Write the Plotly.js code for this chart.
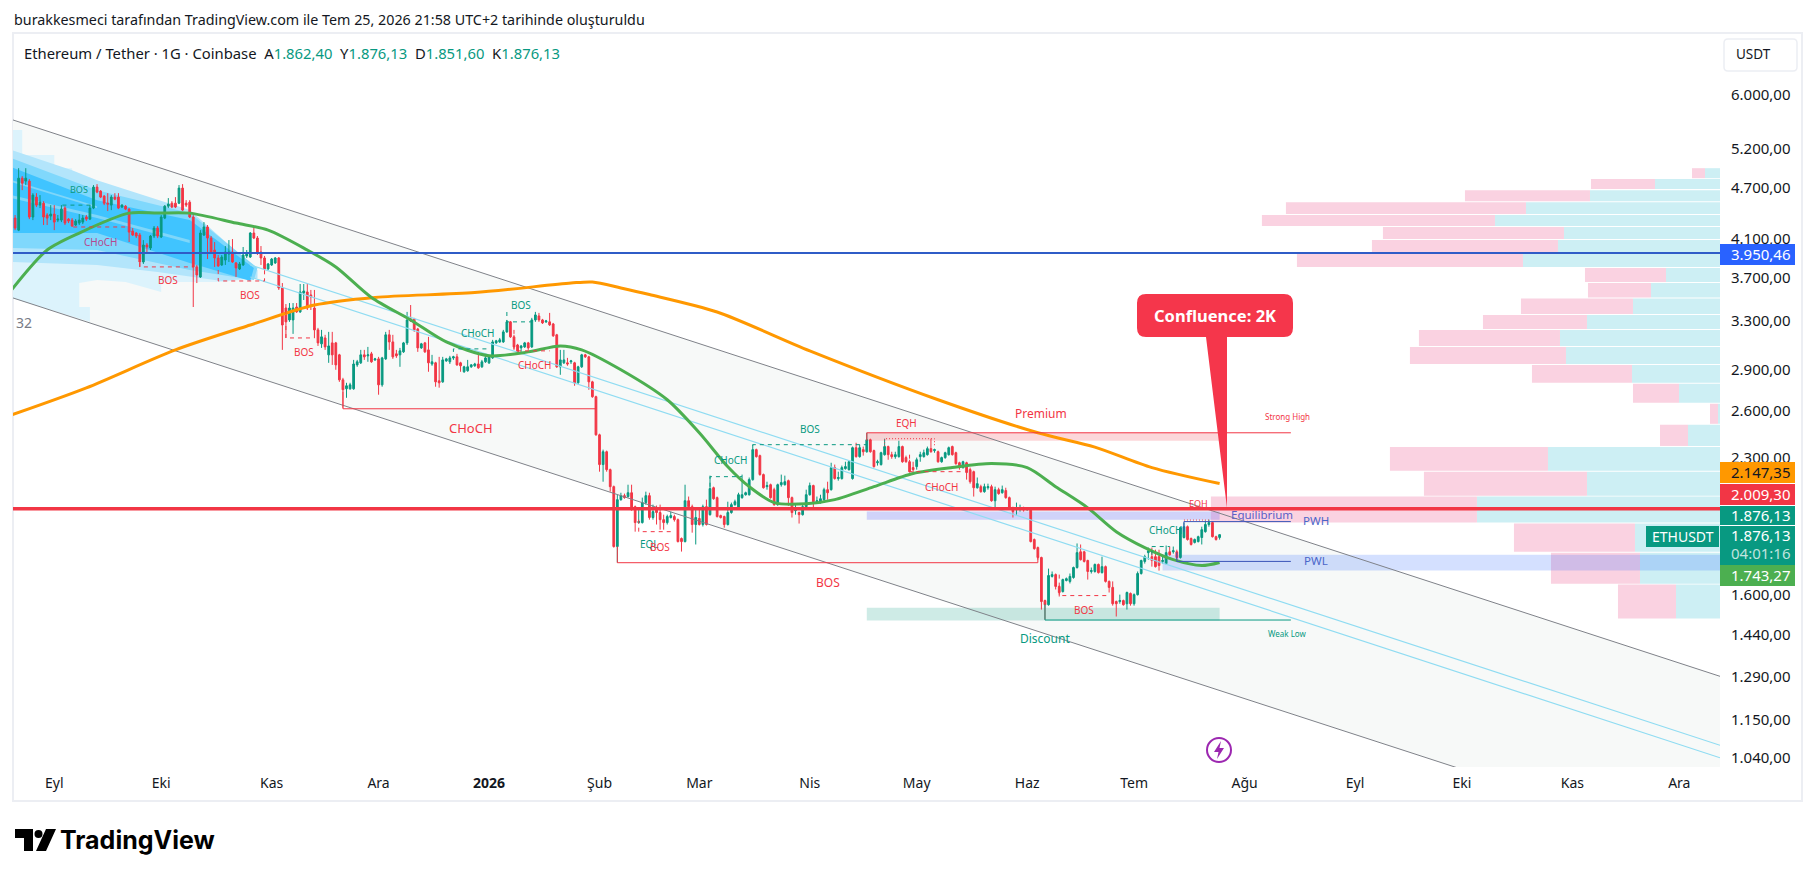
<!DOCTYPE html>
<html><head><meta charset="utf-8">
<script src="https://cdn.plot.ly/plotly-3.0.1.min.js"></script>
<style>html,body{margin:0;padding:0;background:#fff}#c{width:1814px;height:877px}</style></head>
<body><div id="c"></div>
<script>
// ---------- candles (daily, first candle 2025-08-20, last 2026-07-25) ----------
const firstDay = '2025-08-20';
const opens = [4056,4333,4197,4815,4778,4778,4345,4580,4484,4507,4368,4356,4379,4310,4310,4449,4321,4310,4254,4276,4287,4345,4321,4449,4703,4653,4592,4507,4484,4580,4580,4461,4472,4437,4186,4165,4143,3858,4035,4003,4132,4220,4121,4333,4472,4507,4507,4507,4690,4507,4519,4345,3808,3708,4143,4232,4110,3982,3899,3828,3878,3940,3961,3848,3788,3828,3920,3909,4165,4110,3961,3899,3788,3828,3848,3899,3602,3416,3310,3310,3425,3381,3555,3564,3536,3416,3224,3107,3156,3018,3115,3115,3018,2825,2759,2759,2759,2939,2955,3018,3010,3026,2978,2986,2788,2986,3182,3123,3026,3018,3042,3115,3319,3319,3232,3074,3115,3058,2946,2955,2818,2810,2970,2963,2994,3002,2955,2886,2894,2924,2932,2946,2924,2963,2955,2994,3115,3123,3123,3207,3293,3165,3098,3074,3082,3115,3082,3310,3345,3310,3293,3293,3275,3182,2924,2955,2955,2963,2955,2803,2924,3018,3002,2810,2702,2443,2258,2336,2228,2130,1818,2058,2080,2075,2096,2020,1937,1937,2042,2080,1963,2014,1989,1952,1937,1963,1968,1952,1857,1842,2052,2020,1927,1958,1927,2020,1978,2124,2069,1973,1968,1927,1989,2031,2014,2069,2085,2085,2170,2349,2312,2199,2130,2141,2113,2031,2141,2141,2164,2069,1999,1989,1978,2020,2085,2136,2047,2042,2058,2113,2113,2240,2176,2176,2234,2228,2176,2361,2306,2349,2336,2411,2343,2269,2258,2318,2368,2318,2306,2306,2368,2300,2275,2240,2246,2306,2306,2318,2355,2343,2336,2275,2300,2318,2368,2330,2269,2240,2269,2228,2216,2124,2130,2102,2124,2130,2052,2113,2096,2108,2069,2014,2004,2009,2009,2004,2004,1852,1813,1766,1576,1559,1680,1688,1636,1614,1662,1658,1675,1720,1793,1793,1752,1702,1702,1734,1697,1724,1658,1632,1572,1572,1576,1563,1606,1563,1601,1693,1748,1789,1770,1770,1770,1748,1738,1793,1793,1793,1766,1862,1916,1857,1838,1842,1862,1891,1927,1937,1866,1862.40];
const highs = [4368,4368,4944,4841,4944,4803,4628,4628,4604,4531,4390,4484,4484,4368,4484,4472,4333,4333,4321,4379,4368,4368,4484,4728,4740,4665,4604,4628,4604,4628,4628,4496,4484,4449,4220,4175,4165,4088,4056,4143,4243,4243,4368,4484,4568,4531,4580,4728,4740,4543,4543,4368,3828,4197,4287,4254,4132,4067,3930,3930,4024,4088,4099,3858,3858,4014,3982,4175,4232,4132,4024,3920,3848,3899,3909,3909,3649,3452,3461,3461,3461,3640,3640,3649,3583,3583,3241,3224,3182,3207,3207,3123,3026,2840,2803,2803,2978,2978,3058,3058,3082,3042,2994,3002,3002,3207,3224,3182,3058,3074,3123,3381,3443,3328,3241,3115,3123,3165,3018,2963,3002,3002,2994,3010,3010,3026,2963,2932,2978,2946,2955,3042,2978,3018,3010,3140,3140,3156,3224,3310,3301,3182,3107,3098,3123,3123,3328,3381,3372,3319,3310,3372,3284,3190,3058,3058,2994,2978,2963,2932,3026,3026,3010,2818,2709,2450,2349,2343,2234,2136,2085,2096,2091,2141,2141,2026,2014,2069,2102,2096,2031,2026,2031,1978,1978,1994,1978,1958,1862,2141,2075,2031,2004,2004,2031,2058,2193,2130,2075,1978,1973,2047,2042,2058,2096,2199,2102,2182,2380,2355,2318,2205,2158,2147,2124,2147,2199,2193,2170,2075,2031,1994,2031,2113,2153,2141,2075,2085,2124,2158,2269,2258,2216,2252,2275,2281,2368,2392,2380,2368,2456,2418,2349,2287,2336,2418,2374,2336,2336,2405,2374,2312,2287,2275,2300,2336,2349,2368,2418,2355,2343,2306,2336,2368,2374,2336,2275,2281,2275,2240,2222,2182,2141,2147,2147,2141,2130,2124,2136,2124,2075,2020,2042,2031,2020,2014,2009,1857,1818,1770,1580,1715,1702,1693,1640,1670,1675,1693,1724,1833,1828,1798,1756,1720,1738,1738,1770,1729,1662,1658,1576,1601,1580,1614,1610,1606,1702,1756,1779,1813,1813,1803,1803,1779,1823,1818,1818,1803,1916,1937,1922,1862,1857,1871,1916,1947,1952,1942,1871,1876.13];
const lows = [4035,4197,4186,4665,4728,4321,4310,4461,4449,4254,4254,4310,4197,4287,4287,4254,4276,4232,4243,4254,4265,4299,4310,4437,4628,4568,4484,4414,4425,4543,4437,4449,4425,4067,4132,4110,3808,3838,3961,3982,4110,4110,4110,4321,4449,4449,4449,4496,4414,4461,4333,3425,3649,3698,4132,3888,3951,3808,3808,3818,3828,3858,3848,3708,3777,3818,3899,3899,4099,3930,3828,3777,3777,3818,3838,3583,3058,3156,3293,3190,3372,3372,3489,3398,3398,3156,3090,3074,3058,2955,2939,2901,2810,2624,2694,2752,2752,2924,2946,2978,2963,2955,2970,2716,2774,2978,3058,2986,2994,2924,3034,3098,3293,3207,3042,3066,3034,2886,2932,2774,2767,2803,2963,2946,2986,2932,2886,2878,2886,2916,2924,2909,2916,2955,2946,2986,3107,3115,3115,3199,3156,3066,3034,3042,3074,3058,3074,3293,3293,3275,3284,3258,3165,2916,2863,2946,2932,2946,2781,2796,2916,2994,2752,2694,2437,2216,2158,2216,2102,1813,1743,2052,2063,2069,1999,1891,1932,1932,2031,1952,1952,1927,1901,1901,1927,1958,1942,1838,1794,1838,2014,1886,1828,1922,1917,1922,1973,2058,1963,1958,1911,1922,1983,2025,2009,2063,2080,2080,2164,2300,2193,2119,2113,2063,2025,2025,2130,2136,2025,1963,1978,1932,1973,2014,2080,2004,2042,2036,2052,2058,2108,2170,2164,2170,2228,2222,2170,2300,2300,2312,2330,2330,2240,2252,2252,2312,2287,2293,2293,2300,2269,2269,2211,2211,2228,2275,2300,2312,2330,2330,2269,2269,2293,2312,2312,2258,2228,2234,2170,2147,2075,2119,2096,2096,2113,2047,2004,2085,2091,2063,2009,1963,1978,1994,1994,1999,1838,1803,1756,1539,1499,1555,1675,1623,1593,1610,1658,1649,1670,1715,1752,1743,1666,1693,1697,1693,1693,1653,1610,1555,1511,1563,1555,1539,1555,1555,1597,1688,1738,1756,1724,1720,1706,1738,1734,1775,1784,1748,1761,1857,1847,1823,1833,1838,1828,1886,1916,1862,1847,1851.60];
const closes = [4321,4220,4815,4752,4815,4345,4604,4484,4519,4345,4333,4379,4287,4321,4437,4276,4299,4243,4299,4310,4333,4321,4449,4703,4641,4580,4507,4496,4580,4555,4449,4484,4437,4175,4143,4132,3858,4035,4014,4132,4220,4132,4345,4472,4496,4461,4461,4690,4425,4484,4345,3808,3728,4165,4232,4110,3961,3899,3818,3909,3961,3961,3858,3798,3838,3930,3940,4165,4110,3951,3899,3788,3838,3888,3899,3602,3266,3293,3416,3416,3381,3564,3573,3416,3517,3224,3115,3165,3082,3090,3018,2939,2825,2752,2781,2788,2946,2963,3018,3002,3018,2963,2986,2788,2994,3182,3123,3002,3010,3050,3115,3310,3301,3224,3074,3107,3042,2955,2963,2810,2803,2978,2986,2994,3002,2939,2932,2924,2924,2939,2946,2916,2963,2994,3002,3123,3132,3140,3207,3293,3165,3082,3042,3090,3115,3074,3310,3354,3310,3284,3301,3267,3174,2924,2978,2978,2946,2970,2803,2924,3018,3002,2810,2702,2443,2258,2336,2228,2130,1818,2058,2080,2069,2096,2004,1937,1942,2042,2080,1963,1994,1989,1952,1937,1968,1973,1952,1842,1842,2052,2020,1927,1963,1927,2020,1927,2119,2063,1968,1963,1927,1989,2031,2047,2085,2085,2096,2170,2349,2306,2199,2124,2136,2069,2031,2141,2153,2158,2069,1989,2004,1978,2020,2085,2136,2047,2052,2063,2113,2096,2240,2176,2182,2240,2246,2275,2361,2306,2361,2336,2411,2336,2246,2275,2330,2368,2318,2306,2318,2368,2275,2275,2216,2228,2287,2318,2330,2355,2336,2349,2275,2300,2330,2361,2318,2263,2240,2275,2211,2158,2124,2147,2102,2130,2130,2052,2113,2091,2113,2069,2014,1994,2009,2014,2004,2009,1842,1808,1766,1572,1559,1684,1688,1636,1610,1666,1670,1680,1720,1789,1756,1748,1702,1706,1734,1697,1724,1658,1632,1563,1563,1576,1559,1610,1563,1601,1693,1752,1770,1798,1752,1724,1729,1752,1789,1779,1798,1766,1911,1916,1852,1828,1852,1866,1901,1927,1937,1866,1852,1876.13];

// ---------- moving averages ----------
const greenDates = ['2025-08-20','2025-08-30','2025-09-08','2025-09-22','2025-09-30','2025-10-09','2025-10-22','2025-10-31','2025-11-11','2025-11-19','2025-11-29','2025-12-10','2025-12-20','2026-01-01','2026-01-12','2026-01-21','2026-01-27','2026-02-07','2026-02-20','2026-03-01','2026-03-09','2026-03-15','2026-03-22','2026-03-31','2026-04-08','2026-04-19','2026-04-30','2026-05-11','2026-05-22','2026-06-01','2026-06-09','2026-06-18','2026-06-26','2026-07-04','2026-07-12','2026-07-20','2026-07-25'];
const greenValues = [3583,3982,4165,4390,4390,4390,4276,4197,3982,3808,3513,3310,3123,3010,3042,3090,3058,2901,2680,2456,2245,2130,2042,2036,2058,2130,2205,2240,2264,2240,2130,2014,1891,1813,1756,1729,1743.27];
const orangeDates = ['2025-08-20','2025-09-10','2025-10-05','2025-10-26','2025-11-13','2025-11-30','2025-12-28','2026-01-24','2026-01-30','2026-02-07','2026-02-15','2026-03-06','2026-04-01','2026-05-07','2026-06-04','2026-06-20','2026-07-06','2026-07-25'];
const orangeValues = [2575,2766,3058,3266,3443,3513,3558,3649,3659,3602,3540,3380,3050,2680,2456,2365,2240,2147.35];

// ---------- channel ----------
const axisStart = '2025-08-20 10:00', axisEnd = '2026-12-12 10:00';
const upperPrices = [5616,1290];
const lowerPrices = [3508,808];
const midDates = ['2025-10-26','2026-12-12 10:00'];
const midOnePrices = [3828,1075];
const midTwoPrices = [3708,1040];

// ---------- levels ----------
const blueLevel = 3950.46, redLevel = 2009.30;

// ---------- left volume wedge ----------
const wedgeColors = ['#dcf3fc','#b3e5fb','#80d8fc','#40c4ff','#7fd6f9','#7fd6f9'];
const wedgeDates = [
 ['2025-08-20','2025-08-23','2025-08-23','2025-09-01','2025-09-01','2025-09-06','2025-09-06','2025-10-28','2025-10-28','2025-10-18','2025-10-01','2025-10-01','2025-09-21','2025-09-13','2025-09-08','2025-09-08','2025-09-11','2025-09-11','2025-08-20'],
 ['2025-08-20','2025-09-06','2025-09-13','2025-10-09','2025-10-28','2025-10-28','2025-10-18','2025-09-30','2025-09-13','2025-08-20'],
 ['2025-08-20','2025-09-13','2025-10-09','2025-10-28','2025-10-27','2025-10-09','2025-09-13','2025-08-20'],
 ['2025-08-20','2025-09-13','2025-10-09','2025-10-27','2025-10-26','2025-10-13','2025-10-09','2025-09-13','2025-08-20'],
 ['2025-08-20','2025-09-13','2025-10-09','2025-10-09','2025-09-13','2025-08-20'],
 ['2025-08-20','2025-09-13','2025-09-13','2025-08-20']];
const wedgePrices = [
 [5470,5470,5120,5120,4944,4944,4854,3777,3698,3659,3659,3564,3659,3679,3649,3425,3425,3293,3508],
 [5186,4918,4790,4425,3777,3698,3669,3757,3828,3858],
 [5077,4665,4390,3798,3679,3777,3982,4003],
 [4957,4543,4310,3798,3669,3808,3848,4165,4165],
 [4604,4368,4088,4056,4333,4568],
 [4790,4472,4449,4765]];

// ---------- right volume profile ----------
const vpHigh = [4944,4803,4665,4519,4368,4232,4088,3940,3798,3649,3504,3354,3224,3082,2939,2796,2652,2509,2365,2216,2075,1932,1789,1644];
const vpLow  = [4815,4678,4531,4379,4243,4099,3951,3808,3659,3513,3362,3232,3090,2946,2803,2659,2515,2372,2222,2080,1937,1793,1648,1503];
const vpBuy  = [15,65,130,194,225,156,162,197,54,69,87,133,160,154,88,41,2,32,172,133,243,85,80,44];
const vpSell = [13,64,125,240,233,181,186,226,81,63,112,104,141,156,100,46,8,28,158,163,266,121,89,58];

// ---------- zones ----------
const zoneStart = '2026-04-17', zoneEnd = '2026-07-25';
const premiumPrices = [2456,2405], equilibriumPrices = [1994,1952], discountPrices = [1546,1495], pwlZonePrices = [1779,1706];
const pwlZoneStart = '2026-07-09';

// ---------- structure lines ----------
const tealDashDates = ['2025-09-03','2025-09-03','2025-09-12',null,'2025-12-22','2025-12-22','2026-01-01',null,'2026-01-06','2026-01-06','2026-01-13',null,'2026-03-16','2026-03-16','2026-04-17',null,'2026-03-04','2026-03-04','2026-03-13',null,'2026-07-06','2026-07-06','2026-07-11'];
const tealDashPrices = [4310,4484,4484,null,2978,3066,3066,null,3380,3293,3293,null,2228,2380,2380,null,2085,2187,2187,null,1779,1818,1818];
const redDashDates = ['2025-09-06','2025-09-06','2025-09-21',null,'2025-09-25','2025-09-25','2025-10-10',null,'2025-10-17','2025-10-17','2025-10-30','2025-10-30',null,'2025-11-05','2025-11-05','2025-11-13',null,'2026-01-08','2026-01-08','2026-01-18',null,'2026-04-29','2026-04-29','2026-05-14',null,'2026-02-12','2026-02-12','2026-02-22',null,'2026-06-10','2026-06-10','2026-06-24'];
const redDashPrices = [4310,4232,4232,null,3930,3808,3808,null,3858,3669,3669,3798,null,3398,3156,3156,null,3224,3050,3050,null,2318,2216,2216,null,1952,1891,1891,null,1688,1597,1597];
const redDotDates = ['2026-04-22','2026-04-22','2026-05-06','2026-05-06',null,'2026-07-15','2026-07-22'];
const redDotPrices = [2370,2418,2418,2370,null,1950,1950];
const redSolidDates = ['2025-11-21','2025-11-21','2026-01-31','2026-01-31',null,'2026-02-06','2026-02-06','2026-06-04','2026-06-04',null,'2026-04-17','2026-04-17','2026-08-14'];
const redSolidPrices = [2738,2617,2617,2680,null,1818,1742,1742,1790,null,2405,2456,2456];
const tealSolidDates = ['2026-06-06','2026-06-06','2026-08-14'];
const tealSolidPrices = [1560,1497,1497];
const blueSolidDates = ['2026-07-15','2026-07-15','2026-08-14',null,'2026-07-13','2026-07-13','2026-08-14'];
const blueSolidPrices = [1890,1942,1942,null,1790,1748,1748];

// ---------- labels ----------
const labelTexts = ['BOS','CHoCH','BOS','BOS','BOS','BOS','CHoCH','CHoCH','CHoCH','BOS','EQH','Premium','CHoCH','CHoCH','EQL','BOS','BOS','BOS','Discount','Strong High','EQH','CHoCH','Equilibrium','PWH','PWL','Weak Low'];
const labelDates = ['2025-09-08','2025-09-14','2025-10-03','2025-10-26','2025-11-10','2026-01-10','2025-12-29','2026-01-14','2025-12-27','2026-04-01','2026-04-28','2026-06-05','2026-03-10','2026-05-08','2026-02-15','2026-02-18','2026-04-06','2026-06-17','2026-06-06','2026-08-13','2026-07-19','2026-07-10','2026-08-06','2026-08-21','2026-08-21','2026-08-13'];
const labelPrices = [4678,4067,3679,3536,3042,3443,3199,2939,2489,2483,2522,2583,2287,2130,1832,1818,1653,1539,1424,2563,2036,1901,1977,1947,1752,1443];
const labelColors = ['#089981','#b5488f','#f23645','#f23645','#f23645','#089981','#089981','#f23645','#f23645','#089981','#f23645','#f23645','#089981','#f23645','#089981','#f23645','#f23645','#f23645','#089981','#f23645','#f23645','#089981','#5b5fc7','#4a66c9','#4a66c9','#089981'];
const labelSizes = [9,10,10,10,10,10,10,10,13,10,10,12,10,10,10,10,12,10,12,8,9,10,11.5,11.5,11.5,8];

// ---------- axes ----------
const yTicks = [6000,5200,4700,4100,3700,3300,2900,2600,2300,1600,1440,1290,1150,1040];
const yTickText = ['6.000,00','5.200,00','4.700,00','4.100,00','3.700,00','3.300,00','2.900,00','2.600,00','2.300,00','1.600,00','1.440,00','1.290,00','1.150,00','1.040,00'];
const xTicks = ['2025-09-01','2025-10-01','2025-11-01','2025-12-01','2026-01-01','2026-02-01','2026-03-01','2026-04-01','2026-05-01','2026-06-01','2026-07-01','2026-08-01','2026-09-01','2026-10-01','2026-11-01','2026-12-01'];
const xTickText = ['Eyl','Eki','Kas','Ara','<b>2026</b>','Şub','Mar','Nis','May','Haz','Tem','Ağu','Eyl','Eki','Kas','Ara'];

// ---------- page layout ----------
const W = 1814, H = 877, L = 13, R = 1720, T = 33, B = 767;
const px = x => (x - L) / (R - L), py = y => 1 - (y - T) / (B - T);
const FONT = '"Noto Sans", sans-serif';

const dayMs = 86400000, unitMs = dayMs / 3.563;
const endMs = Date.parse('2026-12-12T10:00:00Z');
const isoAt = ms => new Date(ms).toISOString().slice(0,19).replace('T',' ');
const dates = opens.map((_, i) => new Date(Date.parse(firstDay + 'T00:00:00Z') + i * dayMs).toISOString().slice(0,10));
const polyPath = (ds, ps) => 'M' + ds.map((d,i) => d.replace(' ','_') + ',' + ps[i]).join('L') + 'Z';

const shapes = [];
// frame
shapes.push({type:'rect',xref:'paper',yref:'paper',x0:px(13),x1:px(1802),y0:py(33),y1:py(801),line:{color:'#eceef3',width:2},fillcolor:'rgba(0,0,0,0)',layer:'below'});
// channel body
shapes.push({type:'path',xref:'x',yref:'y',layer:'below',fillcolor:'#f7f9f8',line:{width:0},
  path:polyPath([axisStart,axisEnd,axisEnd,axisStart],[upperPrices[0],upperPrices[1],lowerPrices[1],lowerPrices[0]])});
// wedge
wedgeDates.forEach((ds,i)=>shapes.push({type:'path',xref:'x',yref:'y',layer:'below',fillcolor:wedgeColors[i],line:{width:0},path:polyPath(ds,wedgePrices[i])}));
// profile
vpBuy.forEach((b,i)=>{
  const split = endMs - b*unitMs, left = split - vpSell[i]*unitMs;
  shapes.push({type:'rect',xref:'x',yref:'y',layer:'below',x0:isoAt(split),x1:isoAt(endMs),y0:vpLow[i],y1:vpHigh[i],fillcolor:'#cdeff4',line:{width:0}});
  shapes.push({type:'rect',xref:'x',yref:'y',layer:'below',x0:isoAt(left),x1:isoAt(split),y0:vpLow[i],y1:vpHigh[i],fillcolor:'#fad2e1',line:{width:0}});
});
// zones
[[premiumPrices,'rgba(242,54,69,0.2)',zoneStart,zoneEnd],[equilibriumPrices,'rgba(92,100,255,0.25)',zoneStart,zoneEnd],[discountPrices,'rgba(8,153,129,0.2)',zoneStart,zoneEnd],[pwlZonePrices,'rgba(41,98,255,0.2)',pwlZoneStart,axisEnd]].forEach(z=>{
  shapes.push({type:'rect',xref:'x',yref:'y',layer:'below',x0:z[2],x1:z[3],y0:z[0][1],y1:z[0][0],fillcolor:z[1],line:{width:0}});
});
// USDT button
shapes.push({type:'path',xref:'paper',yref:'paper',layer:'above',fillcolor:'#fff',line:{color:'#eceef3',width:1.5},
 path:`M${px(1728)},${py(39)}L${px(1793)},${py(39)}Q${px(1797)},${py(39)} ${px(1797)},${py(43)}L${px(1797)},${py(67)}Q${px(1797)},${py(71)} ${px(1793)},${py(71)}L${px(1728)},${py(71)}Q${px(1724)},${py(71)} ${px(1724)},${py(67)}L${px(1724)},${py(43)}Q${px(1724)},${py(39)} ${px(1728)},${py(39)}Z`});
// badges
const badgeRows = [[244,265,'#2962ff'],[462,483,'#ff9800'],[484,505,'#f23645'],[506,525,'#089981'],[526,565,'#089981'],[565,586,'#4caf50']];
badgeRows.forEach(b=>shapes.push({type:'rect',xref:'paper',yref:'paper',layer:'above',x0:px(1720),x1:px(1795),y0:py(b[1]),y1:py(b[0]),fillcolor:b[2],line:{width:0}}));
shapes.push({type:'rect',xref:'paper',yref:'paper',layer:'above',x0:px(1646),x1:px(1719),y0:py(547),y1:py(526),fillcolor:'#089981',line:{width:0}});
// callout
const r=9;
shapes.push({type:'path',xref:'paper',yref:'paper',layer:'above',fillcolor:'#f5364b',line:{width:0},
 path:`M${px(1137+r)},${py(294)}L${px(1293-r)},${py(294)}Q${px(1293)},${py(294)} ${px(1293)},${py(294+r)}L${px(1293)},${py(337-r)}Q${px(1293)},${py(337)} ${px(1293-r)},${py(337)}L${px(1227)},${py(337)}L${px(1227)},${py(508)}L${px(1206)},${py(337)}L${px(1137+r)},${py(337)}Q${px(1137)},${py(337)} ${px(1137)},${py(337-r)}L${px(1137)},${py(294+r)}Q${px(1137)},${py(294)} ${px(1137+r)},${py(294)}Z`});
// lightning icon
shapes.push({type:'circle',xref:'paper',yref:'paper',layer:'above',x0:px(1207),x1:px(1231),y0:py(762),y1:py(738),line:{color:'#9c27b0',width:2},fillcolor:'#fff'});
shapes.push({type:'path',xref:'paper',yref:'paper',layer:'above',fillcolor:'#9c27b0',line:{width:0},
 path:`M${px(1221)},${py(741)}L${px(1214)},${py(752)}L${px(1218.5)},${py(752)}L${px(1217)},${py(759)}L${px(1224)},${py(748)}L${px(1219.5)},${py(748)}Z`});
// logo
shapes.push({type:'path',xref:'paper',yref:'paper',layer:'above',fillcolor:'#000',line:{width:0},
 path:`M${px(15)},${py(829)}L${px(33)},${py(829)}L${px(33)},${py(851)}L${px(24)},${py(851)}L${px(24)},${py(838)}L${px(15)},${py(838)}ZM${px(46)},${py(829)}L${px(56)},${py(829)}L${px(46)},${py(851)}L${px(36)},${py(851)}Z`});
shapes.push({type:'circle',xref:'paper',yref:'paper',layer:'above',x0:px(34.5),x1:px(42.5),y0:py(838),y1:py(830),fillcolor:'#000',line:{width:0}});

const ann = [];
const txt = (x,y,t,size,color,anchor,extra) => ann.push(Object.assign({xref:'paper',yref:'paper',x:px(x),y:py(y),text:t,showarrow:false,xanchor:anchor||'left',yanchor:'middle',borderpad:0,font:{family:FONT,size:size,color:color}},extra||{}));
txt(13,20,'burakkesmeci tarafından TradingView.com ile Tem 25, 2026 21:58 UTC+2 tarihinde oluşturuldu',14.3,'#131722');
const val = s => `<span style="color:#089981">${s}</span>`;
txt(23,53,`Ethereum / Tether · 1G · Coinbase  A${val('1.862,40')}  Y${val('1.876,13')}  D${val('1.851,60')}  K${val('1.876,13')}`,14.8,'#131722');
txt(1735,54,'USDT',13.5,'#131722');
txt(15,322,'32',14,'#787b86');
txt(1730,254,'3.950,46',15,'#ffffff');
txt(1730,472,'2.147,35',15,'#131722');
txt(1730,494,'2.009,30',15,'#ffffff');
txt(1730,515,'1.876,13',15,'#ffffff');
txt(1730,535,'1.876,13',15,'#ffffff');
txt(1730,553,'04:01:16',15,'rgba(255,255,255,0.75)');
txt(1730,575,'1.743,27',15,'#ffffff');
txt(1682.5,536.5,'ETHUSDT',14,'#ffffff','center');
txt(1215,315.5,'<b>Confluence: 2K</b>',16.5,'#ffffff','center');
txt(59,840,'<b>TradingView</b>',24,'#000000','left',{font:{family:'Inter, sans-serif',size:25,color:'#000'}});
labelTexts.forEach((t,i)=>ann.push({xref:'x',yref:'y',x:labelDates[i],y:Math.log10(labelPrices[i]),text:t,showarrow:false,borderpad:0,font:{family:FONT,size:labelSizes[i],color:labelColors[i]}}));

const line = (x,y,color,width,dash) => ({type:'scatter',mode:'lines',x:x,y:y,line:{color:color,width:width,dash:dash||'solid'},hoverinfo:'skip',connectgaps:false,showlegend:false});
const smooth = (x,y,color,width) => ({type:'scatter',mode:'lines',x:x,y:y,line:{color:color,width:width,shape:'spline',smoothing:0.8},hoverinfo:'skip',showlegend:false});

const traces = [
 {type:'candlestick',x:dates,open:opens,high:highs,low:lows,close:closes,whiskerwidth:0,
  increasing:{line:{color:'#089981',width:1},fillcolor:'#089981'},decreasing:{line:{color:'#f23645',width:1},fillcolor:'#f23645'},hoverinfo:'skip',showlegend:false},
 line([axisStart,axisEnd],upperPrices,'#7f8289',1),
 line([axisStart,axisEnd],lowerPrices,'#7f8289',1),
 line(midDates,midOnePrices,'#8fdcf2',1.2),
 line(midDates,midTwoPrices,'#8fdcf2',1.2),
 smooth(orangeDates,orangeValues,'#ff9800',3),
 smooth(greenDates,greenValues,'#4caf50',3),
 line([axisStart,axisEnd],[blueLevel,blueLevel],'#2f5cc7',2),
 line([axisStart,axisEnd],[redLevel,redLevel],'#f23645',3.5),
 line(tealDashDates,tealDashPrices,'#089981',1,'4px,4px'),
 line(redDashDates,redDashPrices,'#f23645',1,'4px,4px'),
 line(redDotDates,redDotPrices,'#f23645',1,'1px,2px'),
 line(redSolidDates,redSolidPrices,'#f23645',1),
 line(tealSolidDates,tealSolidPrices,'#089981',1),
 line(blueSolidDates,blueSolidPrices,'#3a55b8',1)
];

const layout = {
 width:W,height:H,showlegend:false,paper_bgcolor:'#fff',plot_bgcolor:'#fff',
 margin:{l:L,r:W-R,t:T,b:H-B,pad:0},
 font:{family:FONT,size:14,color:'#131722'},
 xaxis:{type:'date',range:[axisStart,axisEnd],tickmode:'array',tickvals:xTicks,ticktext:xTickText,showgrid:false,zeroline:false,showline:false,ticks:'',rangeslider:{visible:false},tickfont:{family:FONT,size:14,color:'#131722'},ticklabelstandoff:6,tickangle:0},
 yaxis:{type:'log',side:'right',range:[Math.log10(1015),Math.log10(7068)],tickmode:'array',tickvals:yTicks,ticktext:yTickText,showgrid:false,zeroline:false,showline:false,ticks:'',tickfont:{family:FONT,size:15,color:'#131722'},ticklabelstandoff:10},
 shapes:shapes,annotations:ann
};
Plotly.newPlot('c',traces,layout,{displayModeBar:false,staticPlot:true});
</script></body></html>
